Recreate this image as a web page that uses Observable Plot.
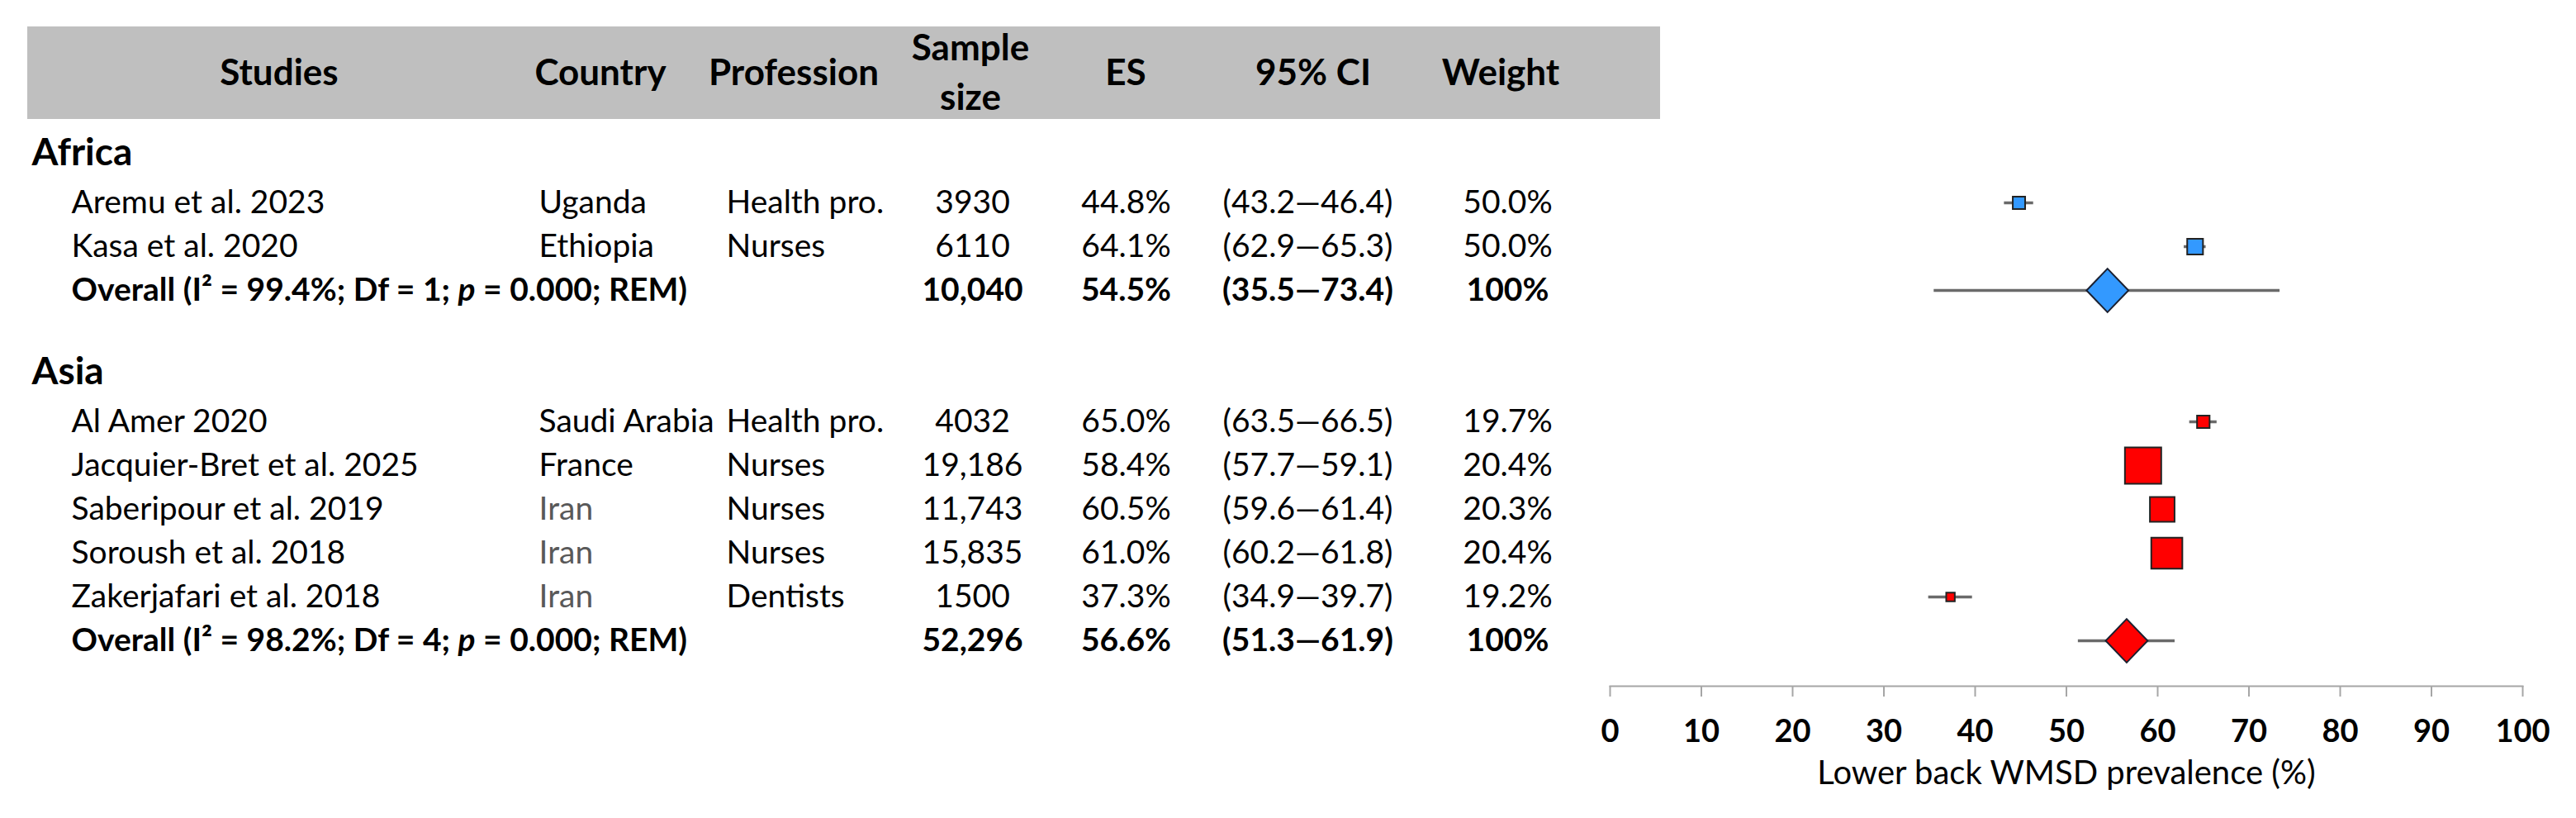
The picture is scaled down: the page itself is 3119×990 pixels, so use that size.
<!DOCTYPE html>
<html>
<head>
<meta charset="utf-8">
<script src="https://cdn.jsdelivr.net/npm/d3@7"></script>
<script src="https://cdn.jsdelivr.net/npm/@observablehq/plot@0.6"></script>
<style>
  html, body { margin: 0; padding: 0; background: #fff; }
  #chart { width: 3119px; }
  #chart svg { display: block; }
</style>
</head>
<body>
<div id="chart"></div>
<script>
// ---------------- data ----------------
const regions = ["Africa", "Asia"];
const studies = ["Aremu et al. 2023", "Kasa et al. 2020", "Al Amer 2020", "Jacquier-Bret et al. 2025", "Saberipour et al. 2019", "Soroush et al. 2018", "Zakerjafari et al. 2018"];
const studyRegion = ["Africa", "Africa", "Asia", "Asia", "Asia", "Asia", "Asia"];
const countries = ["Uganda", "Ethiopia", "Saudi Arabia", "France", "Iran", "Iran", "Iran"];
const professions = ["Health pro.", "Nurses", "Health pro.", "Nurses", "Nurses", "Nurses", "Dentists"];
const sampleSizes = [3930, 6110, 4032, 19186, 11743, 15835, 1500];
const effectSizes = [44.8, 64.1, 65.0, 58.4, 60.5, 61.0, 37.3];
const ciLower = [43.2, 62.9, 63.5, 57.7, 59.6, 60.2, 34.9];
const ciUpper = [46.4, 65.3, 66.5, 59.1, 61.4, 61.8, 39.7];
const weights = [50.0, 50.0, 19.7, 20.4, 20.3, 20.4, 19.2];

const pooledI2 = [99.4, 98.2];
const pooledDf = [1, 4];
const pooledP = ["0.000", "0.000"];
const pooledN = [10040, 52296];
const pooledES = [54.5, 56.6];
const pooledLower = [35.5, 51.3];
const pooledUpper = [73.4, 61.9];
const pooledWeight = [100, 100];

const headerLabels = ["Studies", "Country", "Profession", "Sample\nsize", "ES", "95% CI", "Weight"];
const xTicks = [0, 10, 20, 30, 40, 50, 60, 70, 80, 90, 100];
const axisTitle = "Lower back WMSD prevalence (%)";

// ---------------- styles / layout ----------------
const regionColors = {Africa: "#3399ff", Asia: "#ff0000"};
const W = 3119, HEADER_H = 150, PLOT_H = 840;
const M = {left: 1949, right: 65, top: 0, bottom: 160};
const rowRange = [39.6, 627];
const col = {region: 38, study: 86, country: 652, profession: 879, sample: 1177, es: 1363, ci: 1583, weight: 1825};
const headerX = [338, 727, 961, 1175, 1363, 1590, 1817];
const FONT = "Lato, 'Open Sans', sans-serif";

// ---------------- rows ----------------
const rows = [];
regions.forEach((r, gi) => {
  if (gi > 0) rows.push({id: `gap-${gi}`, kind: "gap"});
  rows.push({id: `region-${r}`, kind: "region", label: r});
  studies.forEach((s, i) => {
    if (studyRegion[i] === r) rows.push({
      id: `study-${i}`, kind: "study", region: r, label: s,
      country: countries[i], profession: professions[i],
      n: sampleSizes[i], es: effectSizes[i], lo: ciLower[i], hi: ciUpper[i], w: weights[i]
    });
  });
  rows.push({
    id: `overall-${r}`, kind: "overall", region: r,
    label: `Overall (I² = ${pooledI2[gi]}%; Df = ${pooledDf[gi]}; p = ${pooledP[gi]}; REM)`,
    n: pooledN[gi], es: pooledES[gi], lo: pooledLower[gi], hi: pooledUpper[gi], w: pooledWeight[gi]
  });
});
const regionRows = rows.filter(d => d.kind === "region");
const studyRows = rows.filter(d => d.kind === "study");
const overallRows = rows.filter(d => d.kind === "overall");
const dataRows = rows.filter(d => d.kind === "study" || d.kind === "overall");

const fmtN = n => n >= 10000 ? d3.format(",")(n) : String(n);
const fmtPct = v => v.toFixed(1) + "%";
const fmtCI = (a, b) => `(${a.toFixed(1)}\u2014${b.toFixed(1)})`;
const fmtW = w => w === 100 ? "100%" : w.toFixed(1) + "%";

function textCol(data, text, x, anchor, weight, extra = {}) {
  return Plot.text(data, {
    y: "id", text, frameAnchor: "left", dx: x - M.left,
    textAnchor: anchor, fontWeight: weight, fontSize: 39, ...extra
  });
}

const rhombus = {
  draw(ctx, size) {
    const r = Math.sqrt(size / Math.PI);
    const hw = r * 1.08, hh = r * 1.12;
    ctx.moveTo(0, -hh); ctx.lineTo(hw, 0); ctx.lineTo(0, hh); ctx.lineTo(-hw, 0); ctx.closePath();
  }
};

const columnMarks = (data, weight) => [
  textCol(data, "label", col.study, "start", weight),
  textCol(data, d => fmtN(d.n), col.sample, "middle", weight),
  textCol(data, d => fmtPct(d.es), col.es, "middle", weight),
  textCol(data, d => fmtCI(d.lo, d.hi), col.ci, "middle", weight),
  textCol(data, d => fmtW(d.w), col.weight, "middle", weight)
];

const plot = Plot.plot({
  width: W, height: PLOT_H,
  marginLeft: M.left, marginRight: M.right, marginTop: M.top, marginBottom: M.bottom,
  style: {fontFamily: FONT, fontSize: "39px", color: "#000", background: "#fff", overflow: "visible"},
  x: {domain: [0, 100]},
  y: {type: "point", domain: rows.map(d => d.id), range: rowRange, padding: 0, axis: null},
  r: {type: "linear", domain: [0, 20000], range: [4.23, 25.67]},
  marks: [
    // table
    textCol(regionRows, "label", col.region, "start", "bold", {fontSize: 46, dy: -7}),
    ...columnMarks(studyRows, "normal"),
    textCol(studyRows, "country", col.country, "start", "normal", {fill: d => d.country === "Iran" ? "#595959" : "#000000"}),
    textCol(studyRows, "profession", col.profession, "start", "normal"),
    ...columnMarks(overallRows, "bold"),
    // forest
    Plot.ruleY(dataRows, {y: "id", x1: "lo", x2: "hi", stroke: "#6a6a6a", strokeWidth: 3.5}),
    Plot.dot(studyRows, {x: "es", y: "id", r: "n", symbol: "square", fill: d => regionColors[d.region], stroke: "#222222", strokeWidth: 2}),
    Plot.dot(overallRows, {x: "es", y: "id", r: 23.5, symbol: rhombus, fill: d => regionColors[d.region], stroke: "#1b2030", strokeWidth: 2}),
    // axis
    Plot.frame({anchor: "bottom", stroke: "#a6a6a6", strokeWidth: 2}),
    Plot.axisX({ticks: xTicks, anchor: "bottom", tickSize: 13, tickPadding: 28, stroke: "#a6a6a6", strokeWidth: 2, fill: "#000", fontSize: 38, fontWeight: "bold", label: null}),
    Plot.text([axisTitle], {text: d => d, frameAnchor: "bottom", dy: 118, fontSize: 40, fill: "#000"})
  ]
});

// italic "p" in the pooled rows
const NS = "http://www.w3.org/2000/svg";
plot.querySelectorAll("text").forEach(t => {
  const s = t.textContent;
  const i = s.indexOf("; p = ");
  if (i >= 0 && t.children.length === 0) {
    t.textContent = "";
    t.setAttribute("style", "white-space: pre");
    const a = document.createElementNS(NS, "tspan"); a.textContent = s.slice(0, i + 2);
    const b = document.createElementNS(NS, "tspan"); b.textContent = "p"; b.setAttribute("font-style", "italic");
    const c = document.createElementNS(NS, "tspan"); c.textContent = s.slice(i + 3);
    t.append(a, b, c);
  }
});

// header band (table header above the chart)
const header = d3.create("svg").attr("width", W).attr("height", HEADER_H)
  .style("font-family", FONT).style("background", "#fff");
header.append("rect").attr("x", 33).attr("y", 32).attr("width", 1977).attr("height", 112).attr("fill", "#bfbfbf");
headerLabels.forEach((lab, i) => {
  const lines = lab.split("\n");
  const baselines = lines.length === 2 ? [73, 133] : [103];
  lines.forEach((ln, j) => {
    header.append("text").attr("x", headerX[i]).attr("y", baselines[j])
      .attr("text-anchor", "middle").attr("font-weight", "bold").attr("font-size", 44)
      .attr("fill", "#000").text(ln);
  });
});

const chart = document.getElementById("chart");
chart.append(header.node());
chart.append(plot);
</script>
</body>
</html>
